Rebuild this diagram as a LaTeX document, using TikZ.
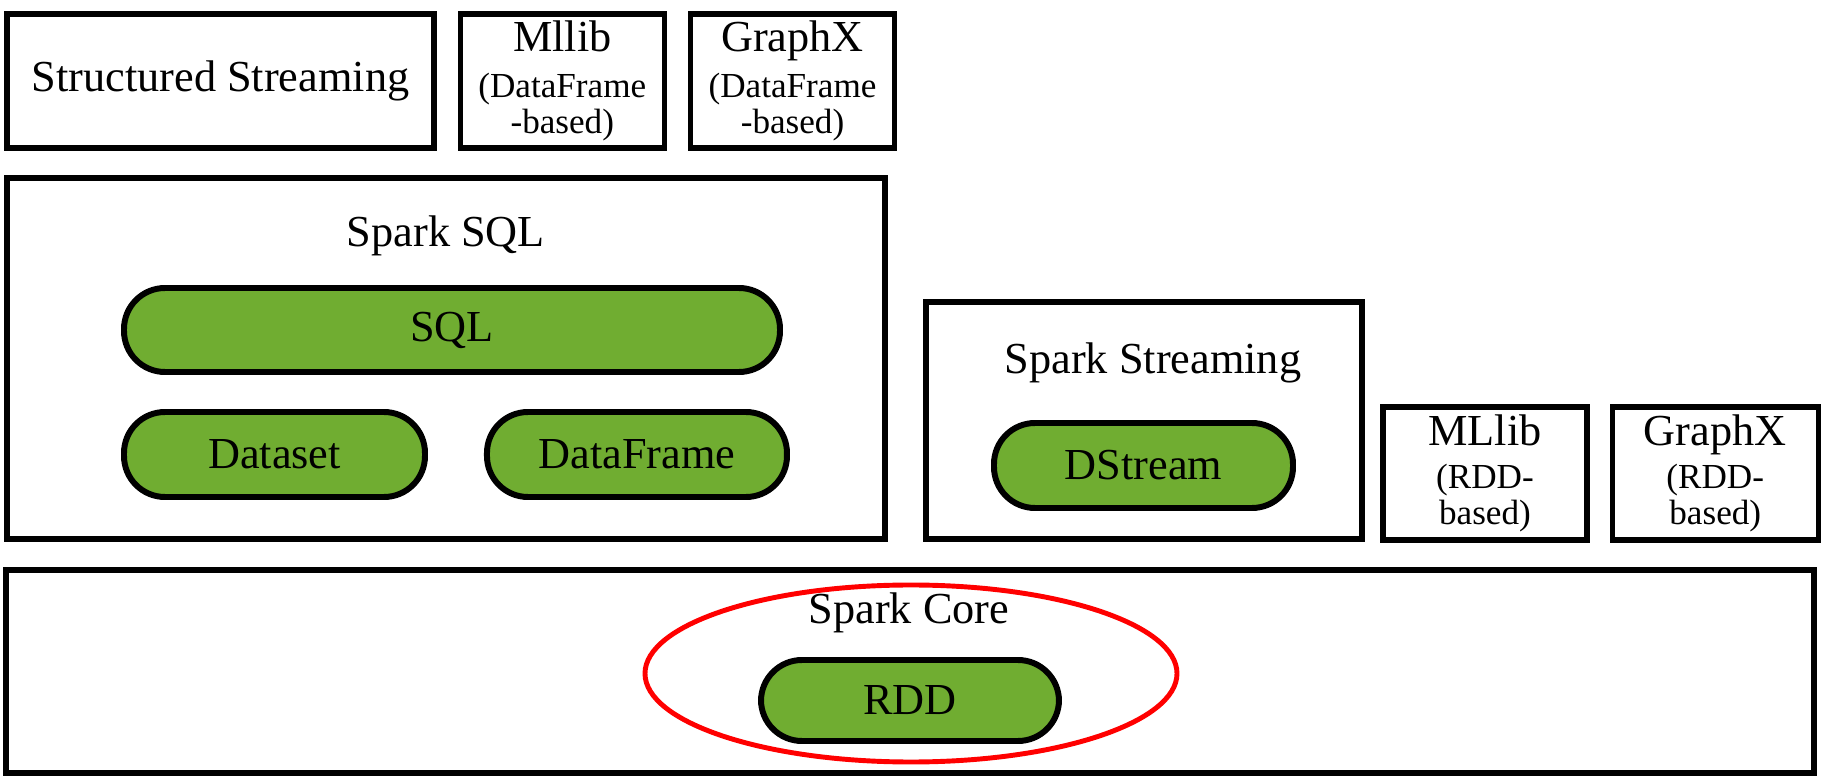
\documentclass[tikz,border=0pt]{standalone}
\usepackage{fontspec}
\setmainfont{Liberation Serif}
\usepackage{tikz}
\usetikzlibrary{positioning, shapes.geometric}
\definecolor{leaf}{RGB}{112,173,49}
\definecolor{ringred}{RGB}{255,0,0}

\begin{document}
\begin{tikzpicture}[
  layer/.style={draw=black, line width=1.5pt, fill=white, inner sep=0pt,
                font=\fontsize{12.6}{15}\selectfont, align=center},
  module/.style={layer, minimum width=2.04cm, minimum height=1.34cm,
                 font=\fontsize{10}{10.2}\selectfont},
  pill/.style={draw=black, line width=1.7pt, fill=leaf, rounded corners=0.41cm,
               minimum height=0.84cm, inner sep=0pt,
               font=\fontsize{12.6}{15}\selectfont},
  title/.style={font=\fontsize{12.6}{15}\selectfont, inner sep=0pt},
]
  \useasboundingbox (0,0) rectangle (18.23,7.76);

  % top row: DataFrame-based libraries
  \node[layer, minimum width=4.27cm, minimum height=1.34cm] (structured) at (2.205,6.95) {Structured Streaming};
  \node[module, right=0.21cm of structured] (mllibdf) {{\fontsize{12.6}{14}\selectfont Mllib}\\[3pt](DataFrame\\-based)};
  \node[module, right=0.21cm of mllibdf] (graphxdf) {{\fontsize{12.6}{14}\selectfont GraphX}\\[3pt](DataFrame\\-based)};

  % Spark SQL
  \node[layer, minimum width=8.78cm, minimum height=3.61cm] (sqlbox) at (4.46,4.175) {};
  \node[title] (sqltitle) at (4.46,5.40) {Spark SQL};
  \node[pill, minimum width=6.56cm] (sql) at (4.52,4.46) {SQL};
  \node[pill, minimum width=3.01cm, minimum height=0.85cm] (dataset) at (2.745,3.215) {Dataset};
  \node[pill, minimum width=3.0cm, minimum height=0.85cm, right=0.56cm of dataset] (dataframe) {DataFrame};

  % Spark Streaming
  \node[layer, minimum width=4.36cm, minimum height=2.37cm] (streambox) at (11.44,3.555) {};
  \node[title] (streamtitle) at (11.53,4.13) {Spark Streaming};
  \node[pill, minimum width=2.99cm, minimum height=0.85cm] (dstream) at (11.435,3.105) {DStream};

  % RDD-based libraries
  \node[module, minimum height=1.33cm] (mllibrdd) at (14.85,3.025) {{\fontsize{12.6}{14}\selectfont MLlib}\\[2pt](RDD-\\based)};
  \node[module, minimum height=1.33cm, minimum width=2.06cm, right=0.20cm of mllibrdd] (graphxrdd) {{\fontsize{12.6}{14}\selectfont GraphX}\\[2pt](RDD-\\based)};

  % Spark Core
  \node[layer, minimum width=18.08cm, minimum height=2.03cm] (core) at (9.10,1.045) {};
  \node[title] (coretitle) at (9.09,1.63) {Spark Core};
  \node[pill, minimum width=2.98cm, minimum height=0.81cm] (rdd) at (9.10,0.755) {RDD};
  \node[ellipse, draw=ringred, line width=1.4pt, minimum width=5.32cm, minimum height=1.77cm, inner sep=0pt] (ring) at (9.11,1.025) {};
\end{tikzpicture}
\end{document}
